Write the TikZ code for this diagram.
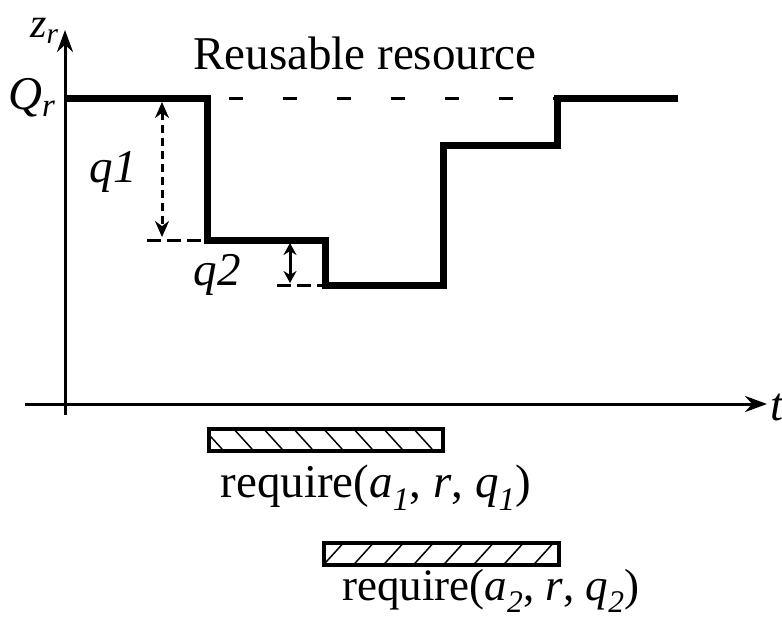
\documentclass[tikz,border=0pt]{standalone}
\usepackage{fontspec}
\setmainfont{Liberation Serif}
\usetikzlibrary{arrows.meta,calc}
\begin{document}
\begin{tikzpicture}[x=1pt,y=-1pt,
  lbl/.style={inner sep=0pt,font=\fontsize{47}{50}\selectfont},
  axis/.style={line width=3pt,-{Stealth[length=22pt,width=16pt]}},
  stepline/.style={line width=7pt,line join=miter},
  dimarrow/.style={line width=3pt,dash pattern=on 8pt off 5pt,{Stealth[length=16pt,width=14pt]}-{Stealth[length=16pt,width=14pt]}},
  guide/.style={line width=3pt,dash pattern=on 14pt off 40pt},
  bar/.style={draw,line width=3.5pt},
  hatch/.style={line width=1.5pt}]
\useasboundingbox (0,0) rectangle (782,618);
% axes
\coordinate (yb) at (65,415);
\coordinate (yt) at (65,30);
\coordinate (xl) at (25,404);
\coordinate (xr) at (767,404);
\draw[axis] (yb) -- (yt);
\draw[axis] (xl) -- (xr);
\node[lbl,anchor=base west,font=\fontsize{42}{46}\selectfont] (zr) at (30,38) {\textit{z\textsubscript{r}}};
\node[lbl,anchor=base west] (Qr) at (8,110) {\textit{Q\textsubscript{r}}};
\node[lbl,anchor=base west] (t) at (770,420) {\textit{t}};
\node[lbl,anchor=base] (title) at (365,70) {Reusable resource};
% step curve
\coordinate (p0) at (65,98);
\coordinate (p1) at (207,98);
\coordinate (p2) at (207,240);
\coordinate (p3) at (325,240);
\coordinate (p4) at (325,285);
\coordinate (p5) at (443,285);
\coordinate (p6) at (443,145);
\coordinate (p7) at (557,145);
\coordinate (p8) at (557,98);
\coordinate (p9) at (678,98);
\draw[stepline] (p0) -- (p1) -- (p2) -- (p3) -- (p4) -- (p5) -- (p6) -- (p7) -- (p8) -- (p9);
% capacity guide
\draw[guide,dash phase=-22pt] (p1) -- (p8);
% q1
\coordinate (q1t) at (162,102);
\coordinate (q1b) at (162,237);
\draw[dimarrow] (q1t) -- (q1b);
\coordinate (g1) at (147,240);
\draw[line width=3pt,dash pattern=on 14pt off 6pt] (g1) -- (p2);
\node[lbl,anchor=base] (q1l) at (113,182) {\textit{q1}};
% q2
\coordinate (q2t) at (290,243);
\coordinate (q2b) at (290,283);
\draw[line width=3pt,{Stealth[length=12pt,width=13pt]}-{Stealth[length=12pt,width=13pt]}] (q2t) -- (q2b);
\coordinate (g2) at (277,285);
\draw[line width=3pt,dash pattern=on 14pt off 6pt] (g2) -- (p4);
\node[lbl,anchor=base] (q2l) at (217,285) {\textit{q2}};
% bar 1
\node[bar,minimum width=234pt,minimum height=22pt,inner sep=0pt,anchor=north west] (b1) at (207,427) {};
\begin{scope}
\clip (b1.north west) rectangle (b1.south east);
\foreach \i in {0,...,9} {
  \draw[hatch] ($(b1.north west)+(\i*30-5,0)$) -- ++(20,22);
}
\end{scope}
\node[lbl,anchor=base] (r1) at (376,497) {require(\textit{a\textsubscript{1}}, \textit{r}, \textit{q\textsubscript{1}})};
% bar 2
\node[bar,minimum width=235pt,minimum height=22pt,inner sep=0pt,anchor=north west] (b2) at (322,541) {};
\begin{scope}
\clip (b2.north west) rectangle (b2.south east);
\foreach \i in {0,...,9} {
  \draw[hatch] ($(b2.south west)+(\i*30,0)$) -- ++(20,-22);
}
\end{scope}
\node[lbl,anchor=base,font=\fontsize{45}{48}\selectfont] (r2) at (491,600) {require(\textit{a\textsubscript{2}}, \textit{r}, \textit{q\textsubscript{2}})};
\end{tikzpicture}
\end{document}
